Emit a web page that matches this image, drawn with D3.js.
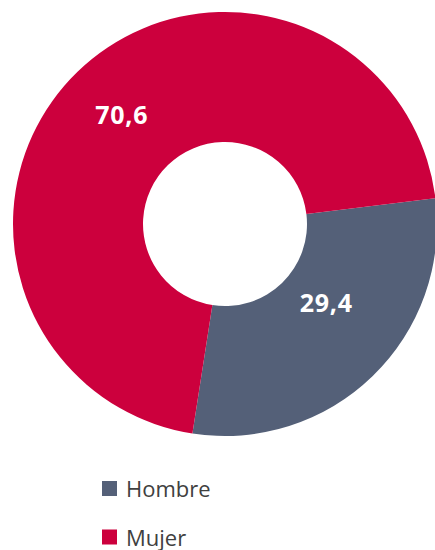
<!DOCTYPE html>
<html>
<head>
<meta charset="utf-8">
<script src="https://cdn.jsdelivr.net/npm/d3@7"></script>
<style>
  body { margin: 0; background: #ffffff; }
  svg { display: block; }
</style>
</head>
<body>
<div id="chart"></div>
<script>
// data
var categories = ["Hombre", "Mujer"];
var values = [29.4, 70.6];
var colors = ["#546078", "#cc003d"];

var width = 435, height = 550;
var cx = 225, cy = 224;
var outerR = 212, innerR = 82;

var svg = d3.select("#chart").append("svg")
    .attr("width", width)
    .attr("height", height);

var g = svg.append("g")
    .attr("transform", "translate(" + cx + "," + cy + ")");

// first slice starts a little before 3 o'clock, like the original
var start = 83 * Math.PI / 180;
var pie = d3.pie()
    .sort(null)
    .value(function(d) { return d; })
    .startAngle(start)
    .endAngle(start + 2 * Math.PI);

var arc = d3.arc()
    .innerRadius(innerR)
    .outerRadius(outerR);

var arcs = pie(values);

g.selectAll("path.slice")
    .data(arcs)
    .enter().append("path")
    .attr("class", "slice")
    .attr("d", arc)
    .attr("fill", function(d, i) { return colors[i]; });

// labels sit at the centroid; the small one was pushed up a bit in the original
var labelShift = [[-1, -26], [-1, -3]];
g.selectAll("text.lbl")
    .data(arcs)
    .enter().append("text")
    .attr("class", "lbl")
    .attr("transform", function(d, i) {
        var c = arc.centroid(d);
        return "translate(" + (c[0] + labelShift[i][0]) + "," + (c[1] + labelShift[i][1]) + ")";
    })
    .attr("text-anchor", "middle")
    .attr("dy", "0.35em")
    .style("font-family", "'Open Sans', sans-serif")
    .style("font-weight", "bold")
    .style("font-size", "25px")
    .style("letter-spacing", "0.8px")
    .style("fill", "#ffffff")
    .text(function(d) { return d3.format(".1f")(d.data).replace(".", ","); });

// legend
var legend = svg.append("g")
    .attr("transform", "translate(102,481)");

var item = legend.selectAll("g")
    .data(categories)
    .enter().append("g")
    .attr("transform", function(d, i) { return "translate(0," + (i * 48.5) + ")"; });

item.append("rect")
    .attr("width", 15)
    .attr("height", 15)
    .attr("fill", function(d, i) { return colors[i]; });

item.append("text")
    .attr("x", 24)
    .attr("y", 16)
    .style("font-family", "'Open Sans', sans-serif")
    .style("font-size", "22px")
    .style("fill", "#404040")
    .text(function(d) { return d; });
</script>
</body>
</html>
